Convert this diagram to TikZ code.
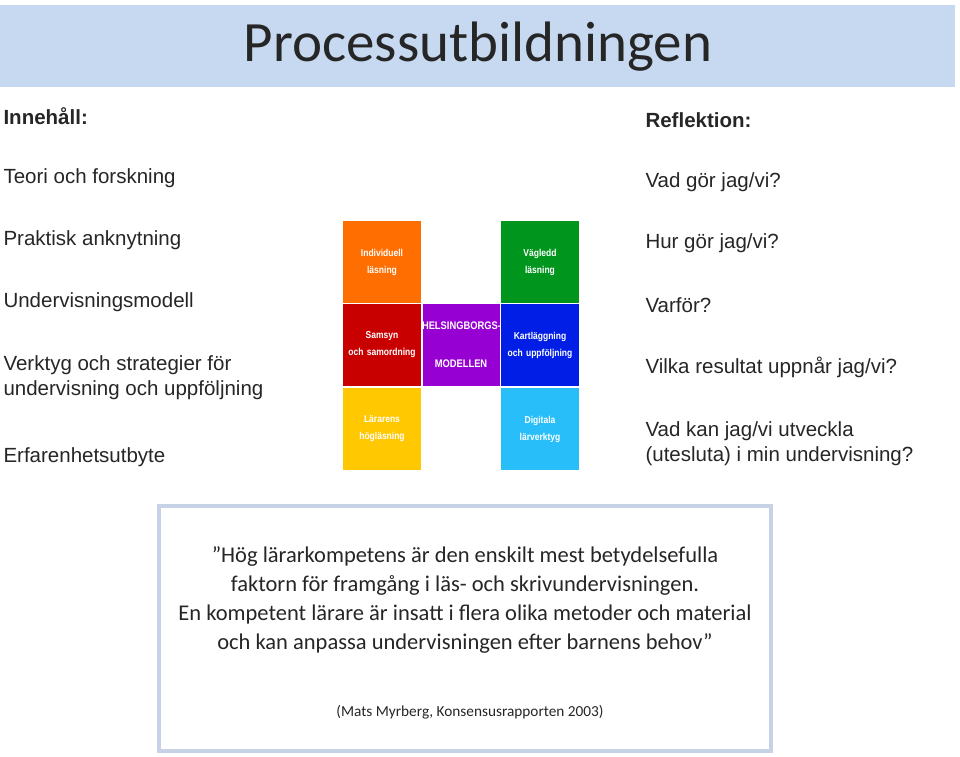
\documentclass[tikz,border=0pt]{standalone}
\usepackage{fontspec}
\setmainfont{Carlito}
\setsansfont{Liberation Sans}
\newfontfamily\arialn[FakeStretch=0.85]{Liberation Sans}
\begin{document}
\begin{tikzpicture}[x=1pt,y=-1pt,
  lt/.style={anchor=west,font=\sffamily\fontsize{20.5}{25}\selectfont,text=black!85},
  blk/.style={draw=white,line width=0.6pt,minimum width=79pt,text width=79pt,minimum height=83pt,inner sep=0pt,text=white,align=center,font=\arialn\bfseries\fontsize{10}{17}\selectfont},
  qt/.style={font=\fontsize{22.5}{26}\selectfont,text=black!85}]
\useasboundingbox (0,0) rectangle (960,756);
\fill[white] (0,0) rectangle (960,756);
\node[fill={rgb,255:red,198;green,217;blue,240},minimum width=955pt,minimum height=82pt,inner sep=0pt,anchor=north west] (bar) at (0,5) {};
\node[font=\fontsize{57}{62}\selectfont,text=black!85] (title) at (478,47) {Processutbildningen};
\node[lt,font=\sffamily\bfseries\fontsize{20.5}{25}\selectfont] (l0) at (0,116) {Innehåll:};
\node[lt] (l1) at (0,178) {Teori och forskning};
\node[lt] (l2) at (0,240) {Praktisk anknytning};
\node[lt] (l3) at (0,302) {Undervisningsmodell};
\node[lt,align=left] (l4) at (0,378) {Verktyg och strategier för\\undervisning och uppföljning};
\node[lt] (l5) at (0,457) {Erfarenhetsutbyte};
\node[lt,font=\sffamily\bfseries\fontsize{20.5}{25}\selectfont] (r0) at (642,120) {Reflektion:};
\node[lt] (r1) at (642,182) {Vad gör jag/vi?};
\node[lt] (r2) at (642,243) {Hur gör jag/vi?};
\node[lt] (r3) at (642,305) {Varför?};
\node[lt] (r4) at (642,367) {Vilka resultat uppnår jag/vi?};
\node[lt,align=left] (r5) at (642,444) {Vad kan jag/vi utveckla\\(utesluta) i min undervisning?};
\node[blk,fill={rgb,255:red,255;green,110;blue,0}] (b1) at (382,262) {Individuell\\läsning};
\node[blk,fill={rgb,255:red,200;green,0;blue,0}] (b2) at (382,345) {Samsyn\\och samordning};
\node[blk,fill={rgb,255:red,255;green,200;blue,0}] (b3) at (382,429) {Lärarens\\högläsning};
\node[blk,minimum width=78pt,text width=78pt,fill={rgb,255:red,150;green,0;blue,210},font=\arialn\bfseries\fontsize{11}{19}\selectfont] (b4) at (461,345) {HELSINGBORGS-\\MODELLEN};
\node[blk,fill={rgb,255:red,0;green,150;blue,30}] (b5) at (540,262) {Vägledd\\läsning};
\node[blk,fill={rgb,255:red,0;green,30;blue,230}] (b6) at (540,345) {Kartläggning\\och uppföljning};
\node[blk,fill={rgb,255:red,40;green,190;blue,250}] (b7) at (540,429) {Digitala\\lärverktyg};
\node[draw={rgb,255:red,200;green,210;blue,230},line width=4pt,minimum width=612pt,minimum height=245pt,inner sep=0pt] (box) at (465,628) {};
\node[qt,align=center] (q) at (465,600) {”Hög lärarkompetens är den enskilt mest betydelsefulla\\[3pt] faktorn för framgång i läs- och skrivundervisningen.\\[3pt] En kompetent lärare är insatt i flera olika metoder och material\\[3pt] och kan anpassa undervisningen efter barnens behov”};
\node[font=\fontsize{15.3}{18}\selectfont,text=black!85] (src) at (470,712) {(Mats Myrberg, Konsensusrapporten 2003)};
\end{tikzpicture}
\end{document}
